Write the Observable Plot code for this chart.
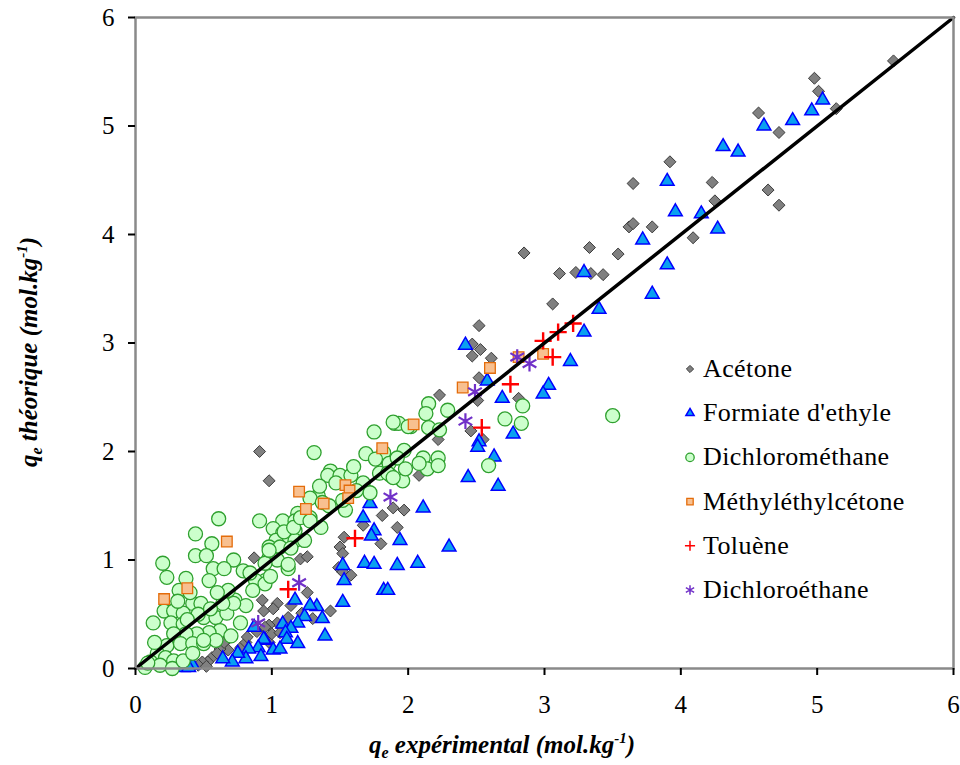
<!DOCTYPE html>
<html><head><meta charset="utf-8">
<script src="https://cdn.jsdelivr.net/npm/d3@7"></script>
<script src="https://cdn.jsdelivr.net/npm/@observablehq/plot@0.6"></script>
<style>body{margin:0;background:#fff;}</style>
</head><body><div id="chart"></div>
<script>
// ---- Data (x = q_e expérimental, y = q_e théorique) ----
const acetone = [[5.56,5.60],[4.98,5.44],[5.01,5.32],[5.14,5.16],[4.57,5.12],[4.72,4.94],[3.92,4.67],[3.65,4.47],[4.23,4.48],[4.25,4.31],[4.64,4.41],[4.72,4.27],[3.62,4.07],[3.65,4.10],[3.79,4.07],[3.33,3.88],[3.54,3.82],[4.09,3.97],[3.11,3.64],[3.23,3.65],[3.34,3.64],[3.43,3.63],[2.85,3.83],[3.06,3.36],[2.52,3.16],[2.47,2.99],[2.53,2.94],[2.47,2.88],[2.61,2.86],[2.52,2.68],[2.23,2.52],[2.51,2.47],[2.81,2.49],[2.46,2.19],[2.22,2.11],[2.55,2.11],[2.08,1.78],[1.89,1.48],[1.97,1.46],
[0.91,2.00],[0.98,1.73],[1.21,1.01],[1.26,1.03],[1.53,1.21],[1.50,1.12],[1.52,1.06],[1.49,0.93],[1.52,0.89],[1.58,0.86],[1.26,0.70],[1.81,1.41],[1.92,1.30],[1.80,1.15],[1.67,1.32],[1.43,0.53],[1.30,0.46],[1.04,0.60],[1.01,0.55],[1.14,0.58],[1.04,0.42],[0.98,0.40],[0.98,0.24],[0.93,0.63],[0.87,1.02],[0.94,0.53],
[0.67,0.26],[0.68,0.17],[0.62,0.18],[0.56,0.10],[0.53,0.06],[0.49,0.06],[0.60,0.14],[0.77,0.19],[0.81,0.24],[0.82,0.29],[0.95,0.38],[0.70,0.29],[0.65,0.24],[0.46,0.03],[1.00,0.32],[1.06,0.33],[1.12,0.47],[1.22,0.51],[0.89,0.34],[0.52,0.02]];

const formiate = [[5.04,5.24],[4.96,5.14],[4.82,5.05],[4.61,5.00],[4.31,4.81],[4.42,4.76],[3.90,4.49],[3.96,4.21],[4.15,4.19],[4.27,4.05],[3.72,3.95],[3.90,3.72],[3.29,3.65],[3.79,3.45],[3.40,3.31],[3.29,3.10],[3.19,2.83],[3.03,2.61],[2.99,2.53],[2.69,2.49],[2.42,2.98],[2.58,2.65],[2.77,2.16],[2.52,2.09],[2.51,2.04],[2.63,1.95],[2.44,1.76],[2.66,1.68],[2.11,1.48],[1.94,1.18],[2.30,1.12],[2.07,0.97],[1.92,0.95],
[1.67,1.39],[1.75,1.27],[1.73,1.22],[1.72,1.52],[1.52,0.95],[1.68,0.97],[1.75,0.96],[1.53,0.81],[1.82,0.72],[1.85,0.72],[1.52,0.61],[1.33,0.57],[1.24,0.48],[1.37,0.46],[1.39,0.30],[1.17,0.63],[1.19,0.42],[1.08,0.41],[1.14,0.37],[1.10,0.33],[1.11,0.27],[1.19,0.23],[0.95,0.26],[1.01,0.17],[1.06,0.18],[0.87,0.38],[0.94,0.27],[0.90,0.19],[0.83,0.18],[0.81,0.09],[0.75,0.14],[0.71,0.06],[0.64,0.09],[0.42,0.03],[0.35,0.01],[0.39,0.01],[0.92,0.11],[1.28,0.58]];

const dichloromethane = [[2.15,2.44],[2.13,2.35],[2.29,2.38],[1.90,2.26],[1.93,2.26],[2.02,2.23],[2.15,2.22],[2.23,2.20],[2.84,2.42],[2.71,2.30],[2.83,2.26],[3.50,2.33],[2.59,1.87],[1.97,2.01],[2.11,1.94],[2.22,1.94],[1.85,1.92],[2.14,1.84],[2.22,1.87],[1.87,1.78],[1.96,1.73],[1.75,2.18],[1.89,2.27],[2.00,2.23],[1.31,1.99],[1.69,1.98],[1.82,1.99],[1.76,1.93],[1.86,1.89],[1.92,1.94],[1.79,1.80],[1.85,1.80],[1.43,1.82],[1.41,1.78],[1.50,1.78],[1.58,1.78],[1.47,1.71],[1.67,1.71],[1.72,1.62],[1.89,1.76],[1.34,1.59],[1.28,1.57],[1.37,1.53],[1.54,1.46],[1.19,1.43],[1.08,1.36],[1.17,1.36],[1.28,1.39],[1.36,1.30],[1.01,1.29],[1.08,1.25],[1.17,1.27],[1.10,1.18],[1.17,1.18],[1.24,1.18],[1.03,1.18],[0.98,1.12],[1.06,1.12],[1.14,1.11],[0.98,1.02],[1.04,1.00],[1.12,0.92],[0.95,0.97],[0.95,0.81],
[0.61,1.38],[0.91,1.36],[0.44,1.24],[0.56,1.15],[0.44,1.04],[0.52,1.04],[0.72,1.00],[0.20,0.97],[0.57,0.92],[0.65,0.92],[0.79,0.90],[0.98,1.09],[0.23,0.84],[0.54,0.81],[0.37,0.83],[0.88,0.81],[0.95,0.78],[0.32,0.72],[0.42,0.60],[0.48,0.60],[0.73,0.63],[0.81,0.58],[0.86,0.72],[0.21,0.53],[0.28,0.53],[0.35,0.51],[0.13,0.42],[0.26,0.42],[0.35,0.41],[0.50,0.47],[0.59,0.47],[0.67,0.51],[0.72,0.60],[0.77,0.42],[0.62,0.35],[0.54,0.33],[0.45,0.32],[0.37,0.32],[0.28,0.32],[0.23,0.21],[0.33,0.23],[0.42,0.23],[0.50,0.23],[0.16,0.14],[0.22,0.10],[0.28,0.07],[0.11,0.06],[0.18,0.03],[0.27,0.00],[0.07,0.01],[0.35,0.07],[0.42,0.14],[0.59,0.26],[0.70,0.30],[0.84,0.88],[0.50,0.26],[0.64,0.60],[0.68,0.72],[0.60,0.70],[0.40,0.70],[0.31,0.62],[0.46,0.50],[0.55,0.55],[0.38,0.45],[0.09,0.05],[0.14,0.24],[1.09,1.26],[1.16,1.30],[1.21,1.39],[1.28,1.36],[1.12,0.96],[0.99,0.85],[2.08,1.89],[1.98,1.84],[1.62,1.64],[1.52,1.55],[1.42,1.50],[1.60,1.86],[1.35,1.68]];

const mek = [[2.60,2.77],[2.40,2.59],[2.81,2.87],[2.99,2.90],[2.04,2.25],[1.81,2.03],[1.20,1.63],[1.25,1.47],[1.38,1.52],[1.54,1.69],[1.57,1.64],[1.56,1.57],[0.67,1.17],[0.38,0.74],[0.21,0.64]];

const toluene = [[3.21,3.18],[3.10,3.10],[2.99,3.02],[3.06,2.87],[2.75,2.62],[2.54,2.22],[1.61,1.20],[1.12,0.73]];

const dichloroethane = [[2.80,2.87],[2.89,2.81],[2.49,2.55],[2.42,2.28],[1.87,1.58],[1.20,0.79],[0.90,0.42]];

const diagonal = [0, 6];
const ticks = [0, 1, 2, 3, 4, 5, 6];

const seriesNames = ["Acétone", "Formiate d'ethyle", "Dichlorométhane", "Méthyléthylcétone", "Toluène", "Dichloroéthane"];

const styles = [
  {symbol: "diamond2", r: 5.4, fill: "#808080", stroke: "#3c3c3c", strokeWidth: 1},
  {symbol: "triangle", r: 5.1, fill: "#0aa0f0", stroke: "#0000ff", strokeWidth: 1.5},
  {symbol: "circle", r: 7, fill: "#ccffcc", stroke: "#2ea02e", strokeWidth: 1.3},
  {symbol: "square", r: 6, fill: "#f8c090", stroke: "#e46c0a", strokeWidth: 1.3},
  {symbol: "plus", r: 5.6, fill: "none", stroke: "#ff0000", strokeWidth: 2.4},
  {symbol: "asterisk", r: 7.5, fill: "none", stroke: "#7030c8", strokeWidth: 2.2}
];
const seriesData = [acetone, formiate, dichloromethane, mek, toluene, dichloroethane];

const font = "'Liberation Serif', 'Times New Roman', serif";

const chart = Plot.plot({
  width: 960,
  height: 765,
  marginLeft: 135,
  marginRight: 7,
  marginTop: 17,
  marginBottom: 97,
  style: {fontFamily: font, fontSize: "24px", color: "black", background: "white", overflow: "visible"},
  x: {domain: [0, 6]},
  y: {domain: [0, 6]},
  marks: [
    ...seriesData.map((data, i) => Plot.dot(data, {x: d => d[0], y: d => d[1], ...styles[i]})),
    Plot.line(diagonal, {x: d => d, y: d => d, stroke: "black", strokeWidth: 3.5}),
    Plot.frame({stroke: "#8a8a8a", strokeWidth: 2.5}),
    Plot.axisX(ticks, {tickSize: 7, tickPadding: 20, stroke: "black", strokeWidth: 2, fill: "black", fontSize: 25, tickFormat: d => String(d), label: null}),
    Plot.axisY(ticks, {tickSize: 7, tickPadding: 14, stroke: "black", strokeWidth: 2, fill: "black", fontSize: 25, tickFormat: d => String(d), label: null})
  ]
});
document.getElementById("chart").appendChild(chart);

const svg = d3.select(chart);

// Axis titles
function title(sel, word) {
  sel.attr("font-family", font).attr("font-weight", "bold").attr("font-style", "italic")
     .attr("font-size", 25).attr("fill", "black").attr("text-anchor", "middle");
  sel.append("tspan").text("q");
  sel.append("tspan").attr("font-size", 16).attr("dy", 5).text("e");
  sel.append("tspan").attr("dy", -5).text(" " + word + " (mol.kg");
  sel.append("tspan").attr("font-size", 15).attr("dy", -10).text("-1");
  sel.append("tspan").attr("dy", 10).text(")");
}
title(svg.append("text").attr("x", 502).attr("y", 753), "expérimental");
title(svg.append("text").attr("transform", "translate(37,352) rotate(-90)"), "théorique");

// Legend
const leg = svg.append("g").attr("transform", "translate(690,369)");
const symMap = {diamond2: d3.symbolDiamond2, triangle: d3.symbolTriangle, circle: d3.symbolCircle, square: d3.symbolSquare, plus: d3.symbolPlus, asterisk: d3.symbolAsterisk};
seriesNames.forEach((name, i) => {
  const st = styles[i];
  const g = leg.append("g").attr("transform", `translate(0,${i * 44.2})`);
  const rr = st.r * 0.6;
  g.append("path").attr("d", d3.symbol(symMap[st.symbol], Math.PI * rr * rr)())
    .attr("fill", st.fill).attr("stroke", st.stroke).attr("stroke-width", Math.min(st.strokeWidth, 1.5));
  g.append("text").attr("x", 13).attr("y", 8).attr("text-anchor", "start").attr("font-family", font).attr("font-size", 26)
    .attr("letter-spacing", 0.4).attr("fill", "black").text(name);
});
</script></body></html>
